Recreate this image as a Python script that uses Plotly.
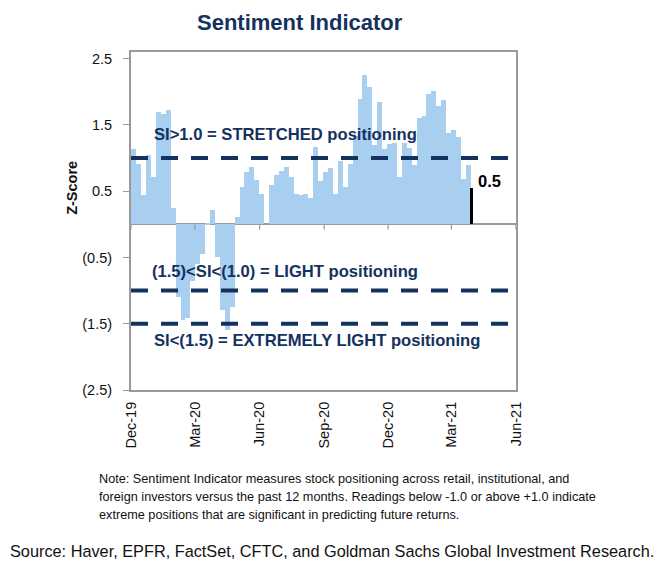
import pandas as pd
import plotly.graph_objects as go

# ---------------- data ----------------
start_date = "2019-12-05"
z_scores = [
    1.14, 0.91, 0.44, 1.04, 0.71, 1.69, 1.67, 1.73, 0.25,
    -1.10, -1.45, -1.42, -0.85, -0.60, -0.45, 0.02, 0.22,
    -0.50, -1.30, -1.60, -1.25,
    0.11, 0.56, 0.79, 0.86, 0.67, 0.46, 0.00, 0.59, 0.74, 0.81, 0.86, 0.71,
    0.46, 0.44, 0.46, 0.40, 1.16, 0.65, 0.79, 0.85, 0.46, 0.96, 0.56, 0.91,
    1.33, 1.89, 2.25, 2.07, 1.19, 1.84, 1.14, 1.21, 1.23, 0.71, 1.22, 1.15,
    0.89, 1.61, 1.64, 1.97, 2.01, 1.79, 1.88, 1.38, 1.43, 1.32, 0.69, 0.89,
    0.55,
]
dates = pd.date_range(start_date, periods=len(z_scores), freq="7D")

threshold_levels = [1.0, -1.0, -1.5]
threshold_labels = [
    "SI>1.0 = STRETCHED positioning",
    "(1.5)<SI<(1.0) = LIGHT positioning",
    "SI<(1.5) = EXTREMELY LIGHT positioning",
]
threshold_label_y = [1.35, -0.71, -1.76]
threshold_label_x = [0.054, 0.049, 0.054]

x_tick_dates = ["2019-12-01", "2020-03-01", "2020-06-01", "2020-09-01",
                "2020-12-01", "2021-03-01", "2021-06-01"]
x_tick_text = ["Dec-19", "Mar-20", "Jun-20", "Sep-20", "Dec-20", "Mar-21", "Jun-21"]
y_tick_vals = [2.5, 1.5, 0.5, -0.5, -1.5, -2.5]
y_tick_text = ["2.5", "1.5", "0.5", "(0.5)", "(1.5)", "(2.5)"]

title_text = "Sentiment Indicator"
note_lines = [
    "Note: Sentiment Indicator measures stock positioning across retail, institutional, and",
    "foreign investors versus the past 12 months. Readings below -1.0 or above +1.0 indicate",
    "extreme positions that are significant in predicting future returns.",
]
source_text = "Source: Haver, EPFR, FactSet, CFTC, and Goldman Sachs Global Investment Research."

# ---------------- styles ----------------
NAVY = "#14325e"
BAR_BLUE = "#a8cff0"
FRAME = "#9a9a9a"
FONT = "Liberation Sans, Arial, sans-serif"
WEEK_MS = 7 * 24 * 3600 * 1000
PLOT_H = 338.0  # plot area height in px (for paper-coordinate placement)

fig = go.Figure()
fig.add_trace(go.Bar(
    x=dates[:-1], y=z_scores[:-1], width=WEEK_MS,
    marker=dict(color=BAR_BLUE, line=dict(width=0)),
    showlegend=False, hoverinfo="skip",
))
fig.add_trace(go.Bar(
    x=dates[-1:], y=z_scores[-1:], width=WEEK_MS * 0.55, offset=-WEEK_MS * 0.55,
    marker=dict(color="#000000", line=dict(width=0)),
    showlegend=False, hoverinfo="skip",
))

shapes = []
for lvl in threshold_levels:
    shapes.append(dict(type="line", xref="paper", yref="y", x0=0, x1=1, y0=lvl, y1=lvl,
                       line=dict(color=NAVY, width=4, dash="17px,13px"), layer="above"))
# small tick marks on the zero line
for d in x_tick_dates:
    shapes.append(dict(type="line", xref="x", yref="y", x0=d, x1=d, y0=0, y1=-0.08,
                       line=dict(color=FRAME, width=1.2)))
# faint rule line at the very top
shapes.append(dict(type="line", xref="paper", yref="paper", x0=-0.327, x1=0.795,
                   y0=1 + 49 / PLOT_H, y1=1 + 49 / PLOT_H, line=dict(color="#ededed", width=1.5)))

annotations = []
for txt, lx, ly in zip(threshold_labels, threshold_label_x, threshold_label_y):
    annotations.append(dict(text="<b>" + txt + "</b>", xref="paper", yref="y", x=lx, y=ly,
                            xanchor="left", yanchor="middle", showarrow=False,
                            font=dict(family=FONT, size=16.6, color=NAVY)))
annotations.append(dict(text="<b>0.5</b>", xref="x", yref="y", x=dates[-1], y=0.66,
                        xanchor="left", yanchor="middle", xshift=3, showarrow=False,
                        font=dict(family=FONT, size=16.5, color="#000000")))
annotations.append(dict(text="<b>Z-Score</b>", xref="paper", yref="y", x=0, y=0.55,
                        xshift=-59, xanchor="center", yanchor="middle", textangle=-90,
                        showarrow=False, font=dict(family=FONT, size=14.5, color="#111111")))
annotations.append(dict(text="<b>" + title_text + "</b>", xref="paper", yref="paper",
                        x=0.439, y=1 + 29 / PLOT_H, xanchor="center", yanchor="middle",
                        showarrow=False,
                        font=dict(family="Liberation Sans Narrow, Arial Narrow, Liberation Sans, sans-serif",
                                  size=22, color=NAVY)))
for i, line in enumerate(note_lines):
    annotations.append(dict(text=line, xref="paper", yref="paper",
                            x=-0.088, y=-(479 - 390 + 18 * i) / PLOT_H,
                            xanchor="left", yanchor="middle", align="left", showarrow=False,
                            font=dict(family=FONT, size=12.7, color="#111111")))
annotations.append(dict(text=source_text, xref="paper", yref="paper",
                        x=-0.319, y=-(551 - 390) / PLOT_H, xanchor="left", yanchor="middle",
                        align="left", showarrow=False,
                        font=dict(family=FONT, size=16.3, color="#111111")))

# the page body has an 8px default margin, so the figure is 8px smaller
fig.update_layout(
    width=659, height=560,
    margin=dict(l=123, r=151, t=44, b=178),
    paper_bgcolor="white", plot_bgcolor="white",
    barmode="overlay", bargap=0,
    font=dict(family=FONT, size=14, color="#111111"),
    shapes=shapes, annotations=annotations,
    xaxis=dict(
        type="date", range=["2019-12-01", "2021-06-01"],
        tickvals=x_tick_dates, ticktext=x_tick_text, tickangle=-90,
        ticks="", ticklabelstandoff=4,
        showgrid=False, zeroline=False,
        showline=True, linecolor=FRAME, linewidth=2, mirror=True,
        tickfont=dict(family=FONT, size=14.5, color="#111111"),
    ),
    yaxis=dict(
        range=[-2.5, 2.6],
        tickvals=y_tick_vals, ticktext=y_tick_text,
        ticks="outside", ticklen=6, tickcolor=FRAME, tickwidth=1.2,
        ticklabelstandoff=8,
        showgrid=False, zeroline=True, zerolinecolor=FRAME, zerolinewidth=1.5,
        showline=True, linecolor=FRAME, linewidth=2, mirror=True,
        tickfont=dict(family=FONT, size=14.5, color="#111111"),
    ),
)

fig.write_html("out.html")
